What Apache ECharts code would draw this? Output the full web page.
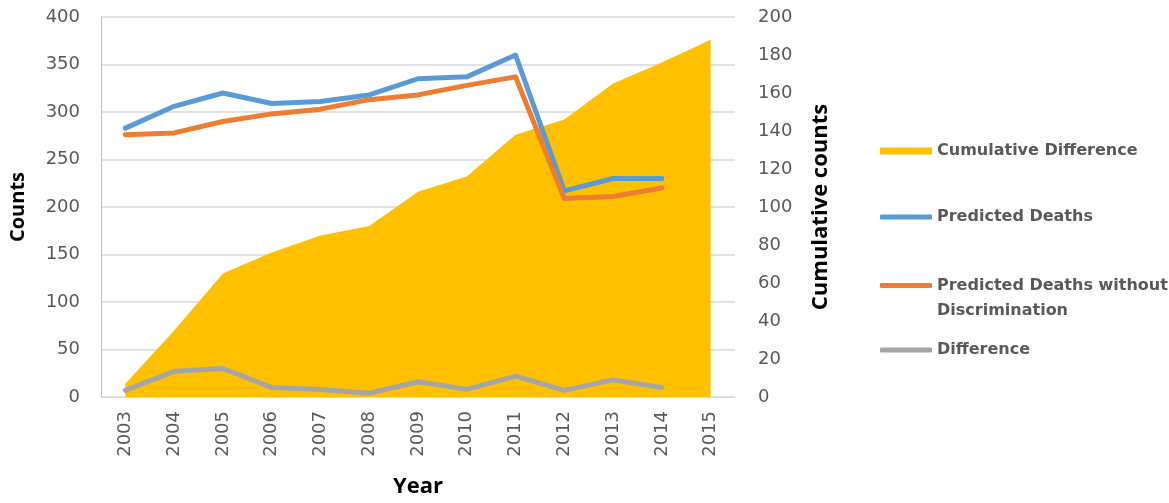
<!DOCTYPE html>
<html>
<head>
<meta charset="utf-8">
<script src="https://cdn.jsdelivr.net/npm/echarts@6/dist/echarts.min.js"></script>
<style>
  html, body { margin: 0; padding: 0; background: #fff; }
  #chart { width: 1169px; height: 503px; }
</style>
</head>
<body>
<div id="chart"></div>
<script>
// Yearly counts (left axis) and running total of the difference (right axis)
var years = ['2003','2004','2005','2006','2007','2008','2009','2010','2011','2012','2013','2014','2015'];
var predictedDeaths = [283, 306, 320, 309, 311, 318, 335, 337, 360, 217, 230, 230, null];
var predictedNoDiscrimination = [276, 278, 290, 298, 303, 313, 318, 328, 337, 209, 211, 220, null];
var difference = [7, 27, 30, 10, 8, 4, 16, 8, 22, 7, 18, 10, null];
var cumulativeDifference = [7, 35, 65, 76, 85, 90, 108, 116, 138, 146, 165, 176, 188];
var countTicks = { min: 0, max: 400, interval: 50 };
var cumulativeTicks = { min: 0, max: 200, interval: 20 };

var LABEL_FONT = '"DejaVu Sans", sans-serif';
var TITLE_FONT = '"Open Sans", sans-serif';
var GREY_TEXT = '#595959';
var legendText = { color: GREY_TEXT, fontFamily: LABEL_FONT, fontWeight: 'bold', fontSize: 16, lineHeight: 20 };

var chart = echarts.init(document.getElementById('chart'), null, { renderer: 'canvas' });

function legendFor(name, top, icon, h, extraText) {
  return {
    data: [name],
    left: 880,
    top: top,
    orient: 'vertical',
    padding: 0,
    icon: icon,
    itemWidth: 52,
    itemHeight: h,
    selectedMode: false,
    textStyle: Object.assign({}, legendText, extraText || {})
  };
}

chart.setOption({
  animation: false,
  backgroundColor: '#ffffff',
  grid: { left: 101, right: 434, top: 17, bottom: 102, containLabel: false },
  legend: [
    legendFor('Cumulative Difference', 141, 'rect', 7),
    legendFor('Predicted Deaths', 207, 'roundRect', 5),
    // wrapped name: an empty first line keeps the icon level with the first text line
    Object.assign(legendFor('Predicted Deaths without Discrimination', 248, 'roundRect', 5,
      { lineHeight: 25 }), {
      formatter: function (n) { return ' \n' + n.replace(' Discrimination', '\nDiscrimination'); }
    }),
    legendFor('Difference', 340, 'roundRect', 5)
  ],
  xAxis: {
    type: 'category',
    data: years,
    boundaryGap: true,
    name: 'Year',
    nameLocation: 'middle',
    nameGap: 79,
    nameTextStyle: { color: '#000', fontFamily: TITLE_FONT, fontWeight: 'bold', fontSize: 22 },
    axisLine: { show: true, lineStyle: { color: '#D9D9D9', width: 1 } },
    axisTick: { show: false },
    axisLabel: { rotate: 90, margin: 14, color: GREY_TEXT, fontFamily: LABEL_FONT, fontSize: 18 }
  },
  yAxis: [
    {
      type: 'value',
      min: countTicks.min, max: countTicks.max, interval: countTicks.interval,
      name: 'Counts',
      nameLocation: 'middle',
      nameGap: 73,
      nameTextStyle: { color: '#000', fontFamily: TITLE_FONT, fontWeight: 'bold', fontSize: 20 },
      axisLine: { show: true, lineStyle: { color: '#BFBFBF', width: 1 } },
      axisTick: { show: false },
      splitLine: { show: true, lineStyle: { color: '#D9D9D9', width: 1.5 } },
      axisLabel: { margin: 21, color: GREY_TEXT, fontFamily: LABEL_FONT, fontSize: 18 }
    },
    {
      type: 'value',
      min: cumulativeTicks.min, max: cumulativeTicks.max, interval: cumulativeTicks.interval,
      name: 'Cumulative counts',
      nameLocation: 'middle',
      nameGap: 75,
      nameTextStyle: { color: '#000', fontFamily: TITLE_FONT, fontWeight: 'bold', fontSize: 22 },
      axisLine: { show: false },
      axisTick: { show: false },
      splitLine: { show: false },
      axisLabel: { margin: 23, color: GREY_TEXT, fontFamily: LABEL_FONT, fontSize: 18 }
    }
  ],
  series: [
    {
      name: 'Cumulative Difference',
      type: 'line',
      yAxisIndex: 1,
      data: cumulativeDifference,
      symbol: 'none',
      lineStyle: { width: 0, color: '#FFC000' },
      itemStyle: { color: '#FFC000' },
      areaStyle: { color: '#FFC000', opacity: 1 },
      z: 1
    },
    {
      name: 'Predicted Deaths',
      type: 'line',
      data: predictedDeaths,
      symbol: 'none',
      lineStyle: { width: 5, color: '#5B9BD5', cap: 'round', join: 'round' },
      itemStyle: { color: '#5B9BD5' },
      z: 3
    },
    {
      name: 'Predicted Deaths without Discrimination',
      type: 'line',
      data: predictedNoDiscrimination,
      symbol: 'none',
      lineStyle: { width: 5, color: '#ED7D31', cap: 'round', join: 'round' },
      itemStyle: { color: '#ED7D31' },
      z: 3
    },
    {
      name: 'Difference',
      type: 'line',
      data: difference,
      symbol: 'none',
      lineStyle: { width: 5, color: '#A5A5A5', cap: 'round', join: 'round' },
      itemStyle: { color: '#A5A5A5' },
      z: 3
    }
  ]
});
</script>
</body>
</html>
